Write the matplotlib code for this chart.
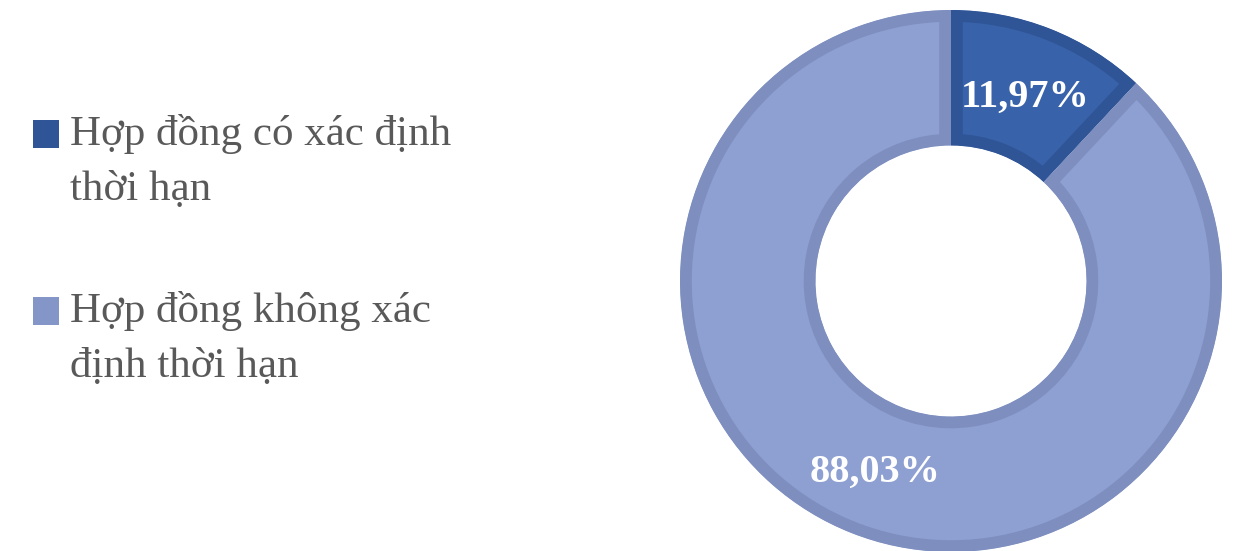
import matplotlib
matplotlib.use("Agg")
import matplotlib.pyplot as plt
from matplotlib.patches import Rectangle

# Data
categories = ["Hợp đồng có xác định\nthời hạn", "Hợp đồng không xác\nđịnh thời hạn"]
values = [11.97, 88.03]
value_labels = ["11,97%", "88,03%"]
fill_colors = ["#3862AA", "#8EA0D2"]
edge_colors = ["#2F5597", "#7E8EBF"]
legend_colors = ["#2F5597", "#8496C8"]

W, H = 1236, 551
fig = plt.figure(figsize=(W / 100, H / 100), dpi=100)
fig.patch.set_facecolor("white")

# donut axes: center (951, 281) px, radius 271 px
cx, cy, R = 951, 281, 271
ax = fig.add_axes([(cx - R) / W, (H - cy - R) / H, 2 * R / W, 2 * R / H])

wedges, _ = ax.pie(values, radius=1.0, startangle=90, counterclock=False,
                   colors=fill_colors,
                   wedgeprops=dict(width=0.5, linewidth=17, joinstyle="miter"))
ax.set_xlim(-1, 1)
ax.set_ylim(-1, 1)
ax.set_aspect("auto")
ax.axis("off")
for w, ec in zip(wedges, edge_colors):
    w.set_edgecolor(ec)
    w.set_clip_on(True)
    w.set_clip_path(w)

# value labels
label_pos = [(1025, 97), (875, 472)]
for (px, py), txt in zip(label_pos, value_labels):
    fig.text(px / W, 1 - py / H, txt, ha="center", va="center",
             color="white", fontsize=29, fontweight="bold",
             family="Liberation Serif")

# legend
leg_y = [145, 322]     # baseline of first line (px from top)
line_gap = 55
for y, lab, col in zip(leg_y, categories, legend_colors):
    fig.patches.append(Rectangle((33 / W, 1 - (y + 3) / H), 26 / W, 28 / H,
                                 transform=fig.transFigure, facecolor=col,
                                 edgecolor="none"))
    for i, line in enumerate(lab.split("\n")):
        fig.text(70 / W, 1 - (y + i * line_gap) / H, line, ha="left",
                 va="baseline", color="#595959", fontsize=31,
                 family="Liberation Serif")

fig.savefig("out.png", dpi=100)
